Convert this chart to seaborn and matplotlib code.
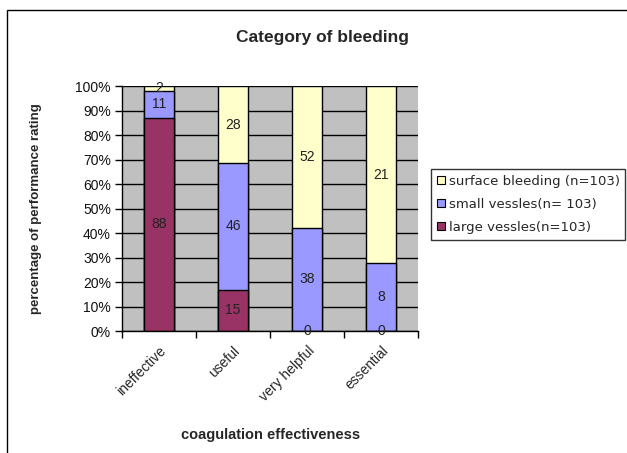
import seaborn as sns
import matplotlib.pyplot as plt
import numpy as np
import pandas as pd
from matplotlib.patches import Rectangle, Patch

categories = ['ineffective', 'useful', 'very helpful', 'essential']
large_vessels = [88, 15, 0, 0]
small_vessels = [11, 46, 38, 8]
surface_bleeding = [2, 28, 52, 21]
series_names = ['surface bleeding (n=103)', 'small vessles(n= 103)', 'large vessles(n=103)']
colors = ['#FFFFCC', '#9999FF', '#993366']

sns.set_style('white')
plt.rcParams['font.family'] = ['Liberation Sans', 'DejaVu Sans']

df = pd.DataFrame({'cat': categories, 'large': large_vessels,
                   'small': small_vessels, 'surface': surface_bleeding})
tot = df[['large', 'small', 'surface']].sum(axis=1)
df['p_large'] = df['large'] / tot * 100
df['p_small'] = df['p_large'] + df['small'] / tot * 100
df['p_surface'] = df['p_small'] + df['surface'] / tot * 100

fig = plt.figure(figsize=(6.27, 4.53), dpi=100)
ax = fig.add_axes([0.1946, 0.2693, 0.4725, 0.5408])
ax.set_facecolor('#C0C0C0')
ax.set_axisbelow(True)
ax.yaxis.grid(True, color='black', linewidth=1)

for col, c in zip(['p_surface', 'p_small', 'p_large'], colors):
    sns.barplot(data=df, x='cat', y=col, color=c, width=0.4, edgecolor='black',
                linewidth=1, saturation=1, ax=ax)

# value labels in the middle of each segment
for i in range(len(categories)):
    segs = [(0, df['p_large'][i], large_vessels[i]),
            (df['p_large'][i], df['p_small'][i], small_vessels[i]),
            (df['p_small'][i], df['p_surface'][i], surface_bleeding[i])]
    for lo, hi, v in segs:
        ax.text(i, (lo + hi) / 2, str(v), ha='center', va='center', fontsize=10, color='#222222')

ax.set_xlim(-0.5, 3.5)
ax.set_ylim(0, 100)
ax.set_yticks(np.arange(0, 101, 10))
ax.set_yticklabels([f'{t}%' for t in range(0, 101, 10)], fontsize=10, color='#111111')
ax.set_xticks(range(4))
ax.set_xticklabels(categories, rotation=45, ha='right', rotation_mode='anchor', fontsize=10)
ax.set_xticks(np.arange(-0.5, 4, 1), minor=True)
ax.tick_params(axis='x', which='major', length=0, pad=9)
ax.tick_params(axis='x', which='minor', length=5, width=1, direction='out', color='black', bottom=True)
ax.tick_params(axis='y', length=5, width=1, direction='out', color='black', left=True, pad=3)
for s in ['top', 'right']:
    ax.spines[s].set_visible(False)
for s in ['left', 'bottom']:
    ax.spines[s].set_color('black')
    ax.spines[s].set_linewidth(1)

ax.set_xlabel('coagulation effectiveness', fontsize=10.5, fontweight='bold', labelpad=17)
ax.set_ylabel('percentage of performance rating', fontsize=9.5, fontweight='bold', labelpad=24)
fig.text(0.515, 0.918, 'Category of bleeding', ha='center', va='center', fontsize=12.5, fontweight='bold')

handles = [Patch(facecolor=c, edgecolor='black', linewidth=0.8) for c in colors]
fig.legend(handles, series_names, loc='upper left', bbox_to_anchor=(0.687, 0.627),
           prop={'family': 'DejaVu Sans', 'size': 9.5}, frameon=True, fancybox=False,
           edgecolor='black', handlelength=0.6, handleheight=0.6, handletextpad=0.3,
           labelspacing=0.75, borderpad=0.45, borderaxespad=0)

fig.patches.append(Rectangle((7 / 627, -0.05), 1.1, 1 - 10 / 453 + 0.05, transform=fig.transFigure,
                             fill=False, edgecolor='black', linewidth=1))

plt.savefig('out.png', dpi=100)
